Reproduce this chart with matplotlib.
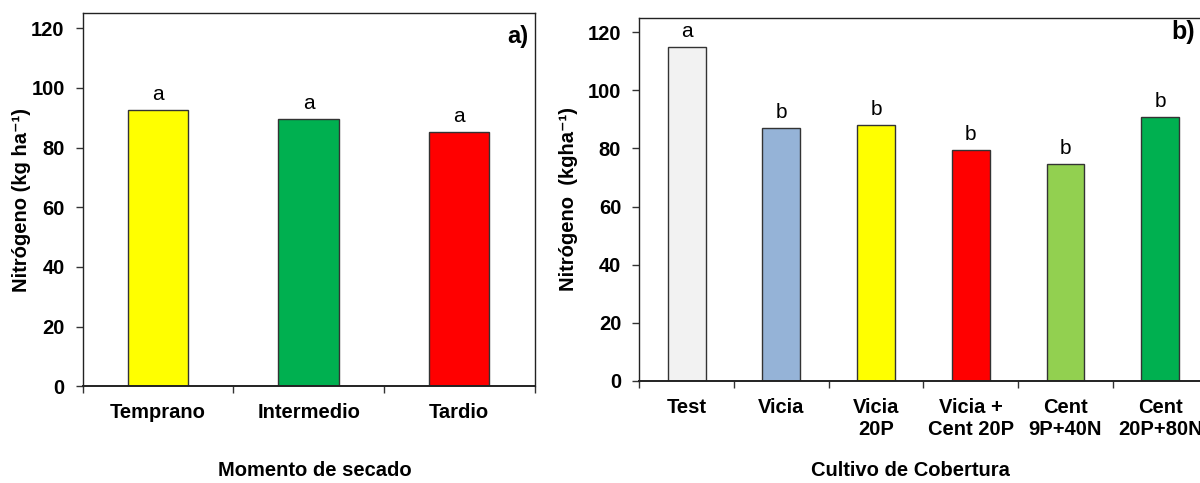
import matplotlib
matplotlib.use("Agg")
import matplotlib.pyplot as plt
import numpy as np

plt.rcParams['font.family'] = ['Liberation Sans', 'DejaVu Sans']

# Panel a data
cats_a = ["Temprano", "Intermedio", "Tardio"]
vals_a = [92.7, 89.7, 85.2]
letters_a = ["a", "a", "a"]
colors_a = ["#FFFF00", "#00B050", "#FF0000"]

# Panel b data
cats_b = ["Test", "Vicia", "Vicia\n20P", "Vicia +\nCent 20P", "Cent\n9P+40N", "Cent\n20P+80N"]
vals_b = [115.0, 87.0, 88.0, 79.4, 74.5, 90.9]
letters_b = ["a", "b", "b", "b", "b", "b"]
colors_b = ["#F2F2F2", "#95B3D7", "#FFFF00", "#FF0000", "#92D050", "#00B050"]

yticks = [0, 20, 40, 60, 80, 100, 120]

W, H = 1200, 483
fig = plt.figure(figsize=(12, 4.83), dpi=100)

def px_axes(l, t, r, b):
    return fig.add_axes([l / W, 1 - b / H, (r - l) / W, (b - t) / H])

ax_a = px_axes(82.7, 13.3, 534.5, 386.3)
ax_b = px_axes(639.3, 17.5, 1207.5, 381.0)

def style(ax, cats, vals, letters, colors):
    n = len(cats)
    x = np.arange(n)
    ax.bar(x, vals, width=0.4, color=colors, edgecolor="#333333", linewidth=1.0, zorder=2)
    for xi, v, l in zip(x, vals, letters):
        ax.annotate(l, xy=(xi, v), xytext=(0, 10), textcoords="offset pixels",
                    ha="center", va="baseline", fontsize=15)
    ax.set_xlim(-0.5, n - 0.5)
    ax.set_ylim(0, 125)
    ax.set_yticks(yticks)
    ax.set_yticklabels([str(t) for t in yticks], fontsize=14.5, fontweight="bold")
    ax.set_xticks(np.arange(n + 1) - 0.5)
    ax.set_xticklabels([])
    ax.set_xticks(x, minor=True)
    ax.set_xticklabels(cats, minor=True, fontsize=14.5, fontweight="bold", linespacing=1.25)
    ax.tick_params(axis="x", which="major", direction="out", length=5, width=1.0, color="#333333")
    ax.tick_params(axis="x", which="minor", length=0, pad=12)
    ax.tick_params(axis="y", direction="out", length=5, width=1.0, pad=8, color="#333333")
    for s in ax.spines.values():
        s.set_linewidth(1.0)
        s.set_color("#222222")
    ax.spines["bottom"].set_linewidth(1.4)

style(ax_a, cats_a, vals_a, letters_a, colors_a)
style(ax_b, cats_b, vals_b, letters_b, colors_b)

# panel labels
fig.text(528 / W, 1 - 25 / H, "a)", ha="right", va="top", fontsize=17, fontweight="bold")
fig.text(1195 / W, 1 - 20 / H, "b)", ha="right", va="top", fontsize=18, fontweight="bold")

# axis titles
fig.text(21.7 / W, 1 - 200 / H, "Nitrógeno (kg ha\u207b\u00b9)", rotation=90,
         ha="center", va="center", fontsize=14.5, fontweight="bold")
fig.text(569 / W, 1 - 199 / H, "Nitrógeno  (kgha\u207b\u00b9)", rotation=90,
         ha="center", va="center", fontsize=14.5, fontweight="bold")
fig.text(315 / W, 1 - 471 / H, "Momento de secado", ha="center", va="center",
         fontsize=14.5, fontweight="bold")
fig.text(910 / W, 1 - 471 / H, "Cultivo de Cobertura", ha="center", va="center",
         fontsize=14.5, fontweight="bold")

fig.savefig("out.png", dpi=100)
